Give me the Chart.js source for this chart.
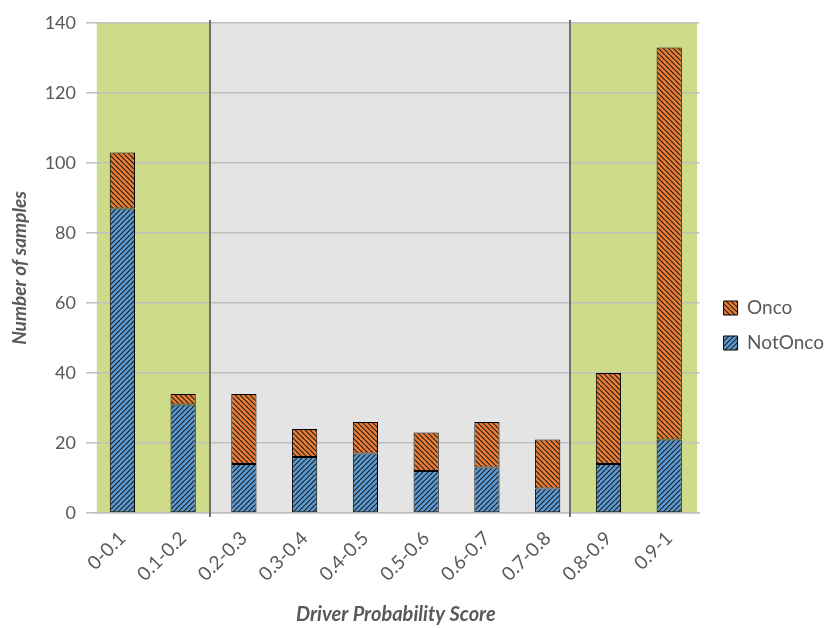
<!DOCTYPE html>
<html>
<head>
<meta charset="utf-8">
<script src="https://cdn.jsdelivr.net/npm/chart.js@4.4.1/dist/chart.umd.min.js"></script>
<style>
  html, body { margin: 0; padding: 0; background: #fff; }
  #wrap { width: 826px; height: 628px; }
</style>
</head>
<body>
<div id="wrap"><canvas id="scoreChart" width="826" height="628"></canvas></div>
<script>
'use strict';

const CATEGORIES = ['0-0.1', '0.1-0.2', '0.2-0.3', '0.3-0.4', '0.4-0.5',
                    '0.5-0.6', '0.6-0.7', '0.7-0.8', '0.8-0.9', '0.9-1'];
const NOT_ONCO = [87, 31, 14, 16, 17, 12, 13, 7, 14, 21];
const ONCO = [16, 3, 20, 8, 9, 11, 13, 14, 26, 112];
const Y_TICKS = [0, 20, 40, 60, 80, 100, 120, 140];

const TEXT_GREY = '#595959';
const FONT = 'Lato, "Open Sans", sans-serif';

// shaded bands behind the bars, in category-index units
const BANDS = [
    { from: -0.42, to: 1.45, color: '#cedc8a' },
    { from: 1.45, to: 7.37, color: '#e4e4e4' },
    { from: 7.37, to: 9.46, color: '#cedc8a' }
];
const DIVIDERS = [1.45, 7.37];

let hatch = (fill, dir) => {
    const size = 5;
    const c = document.createElement('canvas');
    c.width = size;
    c.height = size;
    const ctx = c.getContext('2d');
    ctx.fillStyle = fill;
    ctx.fillRect(0, 0, size, size);
    ctx.strokeStyle = '#1e1e1e';
    ctx.lineWidth = 1.2;
    ctx.beginPath();
    for (let k = -1; k <= 1; k++) {
        if (dir === 'down') {
            ctx.moveTo(k * size, 0);
            ctx.lineTo(k * size + size, size);
        } else {
            ctx.moveTo(k * size, size);
            ctx.lineTo(k * size + size, 0);
        }
    }
    ctx.stroke();
    return ctx.createPattern(c, 'repeat');
};

const bandsPlugin = {
    id: 'bands',
    afterLayout(chart) {
        // nudge the legend a little to the right of the plot
        if (chart.legend) {
            const shift = chart.chartArea.right + 8 - chart.legend.left;
            chart.legend.left += shift;
            chart.legend.right += shift;
        }
    },
    beforeDraw(chart) {
        const { ctx, chartArea, scales } = chart;
        ctx.save();
        for (let b of BANDS) {
            const x1 = scales.x.getPixelForValue(b.from);
            const x2 = scales.x.getPixelForValue(b.to);
            ctx.fillStyle = b.color;
            ctx.fillRect(x1, chartArea.top, x2 - x1, chartArea.bottom - chartArea.top);
        }
        ctx.restore();
    },
    afterDatasetsDraw(chart) {
        const { ctx, chartArea, scales } = chart;
        ctx.save();
        ctx.strokeStyle = '#6f6f6f';
        ctx.lineWidth = 2;
        for (let d of DIVIDERS) {
            const x = Math.round(scales.x.getPixelForValue(d));
            ctx.beginPath();
            ctx.moveTo(x, chartArea.top - 3);
            ctx.lineTo(x, chartArea.bottom + 4);
            ctx.stroke();
        }
        ctx.restore();
    }
};

window.onload = () => {
    const chartDom = document.getElementById('scoreChart');
    new Chart(chartDom, {
        type: 'bar',
        data: {
            labels: CATEGORIES,
            datasets: [{
                label: 'NotOnco',
                data: NOT_ONCO,
                backgroundColor: hatch('#5b9bd5', 'up'),
                borderColor: '#000',
                borderWidth: 1,
                borderSkipped: false
            }, {
                label: 'Onco',
                data: ONCO,
                backgroundColor: hatch('#ed7d31', 'down'),
                borderColor: '#000',
                borderWidth: 1,
                borderSkipped: false
            }]
        },
        options: {
            responsive: false,
            animation: false,
            layout: { padding: { top: 23, right: 0, left: 0, bottom: 0 } },
            datasets: { bar: { categoryPercentage: 1, barPercentage: 0.415 } },
            plugins: {
                tooltip: { enabled: false },
                legend: {
                    position: 'right',
                    reverse: true,
                    labels: {
                        boxWidth: 14,
                        boxHeight: 14,
                        padding: 16,
                        color: TEXT_GREY,
                        font: { family: FONT, size: 19 }
                    }
                }
            },
            scales: {
                x: {
                    stacked: true,
                    afterFit: (s) => { s.height = 115; },
                    grid: { display: false },
                    border: { color: '#bfbfbf', width: 1.5 },
                    ticks: {
                        minRotation: 45,
                        maxRotation: 45,
                        padding: 6,
                        color: TEXT_GREY,
                        font: { family: FONT, size: 19 }
                    },
                    title: {
                        display: true,
                        text: 'Driver Probability Score',
                        color: TEXT_GREY,
                        font: { family: FONT, size: 20, weight: 'bold', style: 'italic' },
                        padding: { top: 0, bottom: 1 }
                    }
                },
                y: {
                    stacked: true,
                    min: 0,
                    max: 140,
                    afterFit: (s) => { s.width = 92; },
                    afterBuildTicks: (s) => { s.ticks = Y_TICKS.map(v => ({ value: v })); },
                    border: { display: false },
                    grid: { color: '#bfbfbf', lineWidth: 1.5, tickLength: 6 },
                    ticks: {
                        padding: 10,
                        color: TEXT_GREY,
                        font: { family: FONT, size: 18 }
                    },
                    title: {
                        display: true,
                        text: 'Number of samples',
                        color: TEXT_GREY,
                        font: { family: FONT, size: 19, weight: 'bold', style: 'italic' },
                        padding: { top: 8, bottom: 0 }
                    }
                }
            }
        },
        plugins: [bandsPlugin]
    });
};
</script>
</body>
</html>
